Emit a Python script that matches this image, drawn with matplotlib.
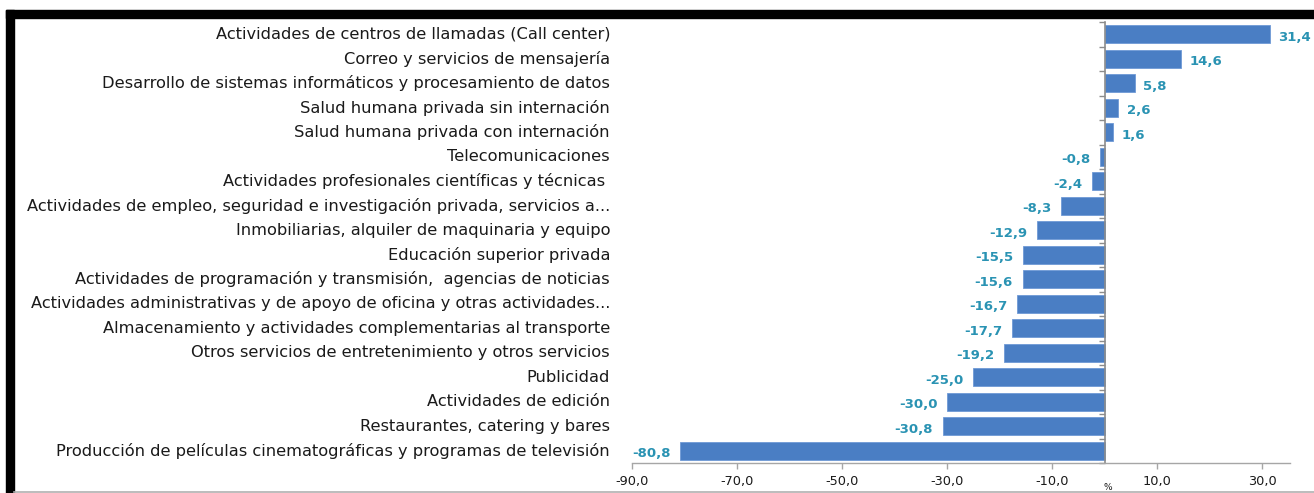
import matplotlib
matplotlib.use("Agg")
import matplotlib.pyplot as plt
from matplotlib.patches import Rectangle
from matplotlib.lines import Line2D
import matplotlib.transforms as mtransforms
import numpy as np

categories = [
    "Actividades de centros de llamadas (Call center)",
    "Correo y servicios de mensajería",
    "Desarrollo de sistemas informáticos y procesamiento de datos",
    "Salud humana privada sin internación",
    "Salud humana privada con internación",
    "Telecomunicaciones",
    "Actividades profesionales científicas y técnicas ",
    "Actividades de empleo, seguridad e investigación privada, servicios a...",
    "Inmobiliarias, alquiler de maquinaria y equipo",
    "Educación superior privada",
    "Actividades de programación y transmisión,  agencias de noticias",
    "Actividades administrativas y de apoyo de oficina y otras actividades...",
    "Almacenamiento y actividades complementarias al transporte",
    "Otros servicios de entretenimiento y otros servicios",
    "Publicidad",
    "Actividades de edición",
    "Restaurantes, catering y bares",
    "Producción de películas cinematográficas y programas de televisión",
]
values = [31.4, 14.6, 5.8, 2.6, 1.6, -0.8, -2.4, -8.3, -12.9, -15.5, -15.6,
          -16.7, -17.7, -19.2, -25.0, -30.0, -30.8, -80.8]
xticks = [-90, -70, -50, -30, -10, 10, 30]

BAR = "#4a7ec4"
LBL = "#2a93b3"
TXT = "#1a1a1a"
GRID = "#a6a6a6"

plt.rcParams['font.family'] = ['DejaVu Sans']

W, H = 1314, 493
fig = plt.figure(figsize=(W / 100, H / 100), dpi=100)
fig.patch.set_facecolor("white")

# axes in pixel coordinates
ax_l, ax_r, ax_t, ax_b = 632, 1290, 22, 463
ax = fig.add_axes([ax_l / W, 1 - ax_b / H, (ax_r - ax_l) / W, (ax_b - ax_t) / H])

n = len(categories)
y = np.arange(n)
ax.barh(y, values, height=0.72, color=BAR, edgecolor="#6f9ad6", linewidth=0.6, zorder=2)
ax.set_ylim(n - 0.5, -0.5)
ax.set_xlim(-90, 35.3)

# value labels
for yi, v in zip(y, values):
    s = f"{v:.1f}".replace(".", ",")
    if v >= 0:
        ax.annotate(s, (v, yi), xytext=(6, -2), textcoords="offset points",
                    ha="left", va="center", color=LBL, fontsize=9.5, fontweight="bold")
    else:
        ax.annotate(s, (v, yi), xytext=(-7, -2), textcoords="offset points",
                    ha="right", va="center", color=LBL, fontsize=9.5, fontweight="bold")

# category labels, right-aligned left of axes
trans = mtransforms.blended_transform_factory(ax.transAxes, ax.transData)
for yi, c in zip(y, categories):
    ax.text(-22 / (ax_r - ax_l), yi, c, transform=trans, ha="right", va="center",
            fontsize=11.7, color=TXT)

# spines
for s in ["top", "right"]:
    ax.spines[s].set_visible(False)
ax.spines["left"].set_position(("data", 0))
ax.spines["left"].set_color("#8c8c8c")
ax.spines["left"].set_linewidth(1.2)
ax.spines["bottom"].set_color(GRID)
ax.spines["bottom"].set_linewidth(1.0)

ax.set_yticks(np.arange(-0.5, n, 1.0))
ax.set_yticklabels([])
ax.tick_params(axis="y", direction="out", length=4, color="#8c8c8c", width=1)

ax.set_xticks(xticks)
ax.set_xticklabels([f"{t:.1f}".replace(".", ",") for t in xticks], fontsize=9.3, color=TXT)
ax.tick_params(axis="x", direction="out", length=4, color=GRID, width=1, pad=5)

# "%" axis title
fig.text(1108 / W, 1 - 492 / H, "%", ha="center", va="bottom", fontsize=6.5, color=TXT)

# black frame pieces (screenshot border)
fig.add_artist(Rectangle((6 / W, 1 - 18 / H), (W - 6) / W, 8 / H,
                         transform=fig.transFigure, color="black", zorder=10))
fig.add_artist(Rectangle((6 / W, 0), 8 / W, 1 - 10 / H,
                         transform=fig.transFigure, color="black", zorder=10))
fig.add_artist(Line2D([14 / W, 1], [1 - 491.5 / H, 1 - 491.5 / H],
                      transform=fig.transFigure, color="#b0b0b0", linewidth=1.2, zorder=10))

fig.savefig("out.png", dpi=100)
